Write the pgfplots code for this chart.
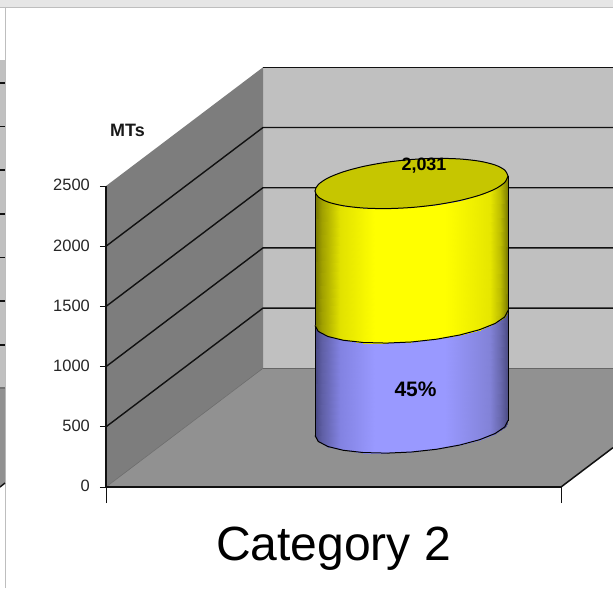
\documentclass[border=0pt]{standalone}
\usepackage{fontspec}
\setmainfont{Liberation Sans}
\usepackage{pgfplots}
\usepackage{pgfplotstable}
\usepgfplotslibrary{patchplots}
\pgfplotsset{compat=1.18}
\definecolor{wallback}{HTML}{C0C0C0}
\definecolor{wallside}{HTML}{7D7D7D}
\definecolor{floorc}{HTML}{919191}
\definecolor{topy}{HTML}{C6C600}
\definecolor{strip}{HTML}{E6E6E6}
\definecolor{edgeg}{HTML}{BEBEBE}
\definecolor{ln}{HTML}{111111}
% chart values (MTs)
\def\base{490}
\def\first{914}
\def\second{1117}
\pgfplotstableread{
x o
508 62.3
504.7 8.6
495.1 -45.7
479.7 -96.9
459.75 -141.4
436.5 -176.4
411.5 -199.3
386.5 -208.6
363.25 -203.7
343.3 -185
327.9 -153.7
318.3 -111.7
315 -62.3
}\frontarc
\pgfplotstableread{
x o
508 62.3
504.7 8.6
495.1 -45.7
479.7 -96.9
459.75 -141.4
436.5 -176.4
411.5 -199.3
386.5 -208.6
363.25 -203.7
343.3 -185
327.9 -153.7
318.3 -111.7
315 -62.3
318.3 -8.6
327.9 45.7
343.3 96.9
363.25 141.4
386.5 176.4
411.5 199.3
436.5 208.6
459.75 203.7
479.7 185
495.1 153.7
504.7 111.7
508 62.3
}\ellipsearc
\pgfplotstableread{
x o f
508 62.3 0
504.7 8.6 0
504.7 8.6 1
508 62.3 1
504.7 8.6 0
495.1 -45.7 0
495.1 -45.7 1
504.7 8.6 1
495.1 -45.7 0
479.7 -96.9 0
479.7 -96.9 1
495.1 -45.7 1
479.7 -96.9 0
459.75 -141.4 0
459.75 -141.4 1
479.7 -96.9 1
459.75 -141.4 0
436.5 -176.4 0
436.5 -176.4 1
459.75 -141.4 1
436.5 -176.4 0
411.5 -199.3 0
411.5 -199.3 1
436.5 -176.4 1
411.5 -199.3 0
386.5 -208.6 0
386.5 -208.6 1
411.5 -199.3 1
386.5 -208.6 0
363.25 -203.7 0
363.25 -203.7 1
386.5 -208.6 1
363.25 -203.7 0
343.3 -185 0
343.3 -185 1
363.25 -203.7 1
343.3 -185 0
327.9 -153.7 0
327.9 -153.7 1
343.3 -185 1
327.9 -153.7 0
318.3 -111.7 0
318.3 -111.7 1
327.9 -153.7 1
318.3 -111.7 0
315 -62.3 0
315 -62.3 1
318.3 -111.7 1
}\sidepatches
\pgfplotsset{
 colormap={yel}{rgb255(0pt)=(115,115,0); rgb255(7pt)=(160,160,0); rgb255(25pt)=(225,225,0); rgb255(60pt)=(255,255,0); rgb255(130pt)=(255,255,0); rgb255(175pt)=(230,230,0); rgb255(185pt)=(190,190,0); rgb255(193pt)=(120,120,0)},
 colormap={blu}{rgb255(0pt)=(70,70,130); rgb255(7pt)=(95,95,165); rgb255(25pt)=(130,130,225); rgb255(60pt)=(153,153,255); rgb255(130pt)=(153,153,255); rgb255(175pt)=(130,130,215); rgb255(185pt)=(105,105,175); rgb255(193pt)=(75,75,130)},
}
\begin{document}
\begin{tikzpicture}
\begin{axis}[
 x=1bp, y=0.1204bp,
 xmin=106, xmax=561, ymin=0, ymax=2500,
 clip=false,
 axis on top,
 axis y line=left, axis x line=bottom,
 axis line style={-, ln, line width=1.7bp},
 xtick={106,561}, xticklabels={},
 ytick={0,500,1000,1500,2000,2500},
 tick align=outside,
 y tick style={ln, line width=1bp},
 major tick length=6bp,
 x tick style={ln, line width=1bp, /pgfplots/major tick length=16bp},
 tick label style={font=\fontsize{16.5}{18}\selectfont, text=black!85},
 /pgf/number format/assume math mode=true,
 /pgf/number format/1000 sep={},
 yticklabel style={inner sep=0pt, xshift=-10bp, yshift=0.7bp},
 xlabel={Category 2},
 xlabel style={at={(axis cs:333.5,-515)}, anchor=center, font=\fontsize{48.2}{50}\selectfont, inner sep=0pt},
 no markers,
 point meta min=315, point meta max=508,
]
% page extent
\addplot[fill=white, draw=none] coordinates {(0,-839) (613,-839) (613,4045) (0,4045)} -- cycle;
% window strip at the top
\addplot[fill=strip, draw=none] coordinates {(0,3985) (613,3985) (613,4045) (0,4045)} -- cycle;
\addplot[edgeg, line width=1bp] coordinates {(0,3985) (613,3985)};
\addplot[edgeg, line width=1bp] coordinates {(5.5,-839) (5.5,3985)};
% sliver of the neighbouring chart
\addplot[fill=wallback, draw=none] coordinates {(0,822) (5,822) (5,3546) (0,3546)} -- cycle;
\addplot[fill=floorc, draw=none] coordinates {(0,0) (5,33) (5,822) (0,822)} -- cycle;
\addplot[ln, line width=1.4bp] coordinates {(0,3355) (5,3355)};
\addplot[ln, line width=1.4bp] coordinates {(0,2993) (5,2993)};
\addplot[ln, line width=1.4bp] coordinates {(0,2633) (5,2633)};
\addplot[ln, line width=1.4bp] coordinates {(0,2267) (5,2267)};
\addplot[ln, line width=1.4bp] coordinates {(0,1905) (5,1905)};
\addplot[ln, line width=1.4bp] coordinates {(0,1545) (5,1545)};
\addplot[ln, line width=1.4bp] coordinates {(0,1179) (5,1179)};
\addplot[black!55, line width=1.2bp] coordinates {(0,822) (5,822)};
\addplot[ln, line width=1.4bp] coordinates {(0,0) (5,33)};
% walls and floor
\addplot[fill=wallback, draw=none] coordinates {(263,986) (613,986) (613,3486) (263,3486)} -- cycle;
\addplot[fill=wallside, draw=none] coordinates {(106,0) (263,986) (263,3486) (106,2500)} -- cycle;
\addplot[fill=floorc, draw=none] coordinates {(106,0) (263,986) (613,986) (613,327) (561,0)} -- cycle;
\addplot[black!60, line width=0.5bp] coordinates {(106,0) (263,986)};
\addplot[black!60, line width=1.3bp] coordinates {(263,986) (613,986)};
\addplot[ln, line width=1.5bp] coordinates {(561,0) (613,327)};
% gridlines
\addplot[ln, line width=1.4bp] coordinates {(106,500) (263,1486) (613,1486)};
\addplot[ln, line width=1.4bp] coordinates {(106,1000) (263,1986) (613,1986)};
\addplot[ln, line width=1.4bp] coordinates {(106,1500) (263,2486) (613,2486)};
\addplot[ln, line width=1.4bp] coordinates {(106,2000) (263,2986) (613,2986)};
\addplot[ln, line width=1.4bp] coordinates {(263,3486) (613,3486)};
% cylinder: lower series
\addplot[patch, patch type=rectangle, shader=interp, colormap name=blu, point meta=x]
  table[x=x, y expr=\thisrow{o}+\base+\thisrow{f}*\first] {\sidepatches};
\addplot[black, line width=1bp] table[x=x, y expr=\thisrow{o}+\base] {\frontarc};
\addplot[black, line width=1bp] coordinates {(508,552.3) (508,1466.3)};
\addplot[black, line width=1bp] coordinates {(315,427.7) (315,1341.7)};
% cylinder: upper series
\addplot[patch, patch type=rectangle, shader=interp, colormap name=yel, point meta=x]
  table[x=x, y expr=\thisrow{o}+\base+\first+\thisrow{f}*\second] {\sidepatches};
\addplot[black, line width=1bp] table[x=x, y expr=\thisrow{o}+\base+\first] {\frontarc};
\addplot[black, line width=1bp] coordinates {(508,1466.3) (508,2583.3)};
\addplot[black, line width=1bp] coordinates {(315,1341.7) (315,2458.7)};
\addplot[fill=topy, draw=black, line width=1bp, smooth] table[x=x, y expr=\thisrow{o}+\base+\first+\second] {\ellipsearc} -- cycle;
% texts
\node[font=\bfseries\fontsize{18}{20}\selectfont, text=black!90] at (axis cs:127.5,2965) {MTs};
\node[font=\bfseries\fontsize{21}{23}\selectfont] at (axis cs:415.5,814) {45\%};
\node[font=\bfseries\fontsize{18}{20}\selectfont] at (axis cs:424,2666) {2,031};
\end{axis}
\pgfresetboundingbox
\useasboundingbox (-106bp,-101.02bp) rectangle (507bp,487.02bp);
\end{tikzpicture}
\end{document}
